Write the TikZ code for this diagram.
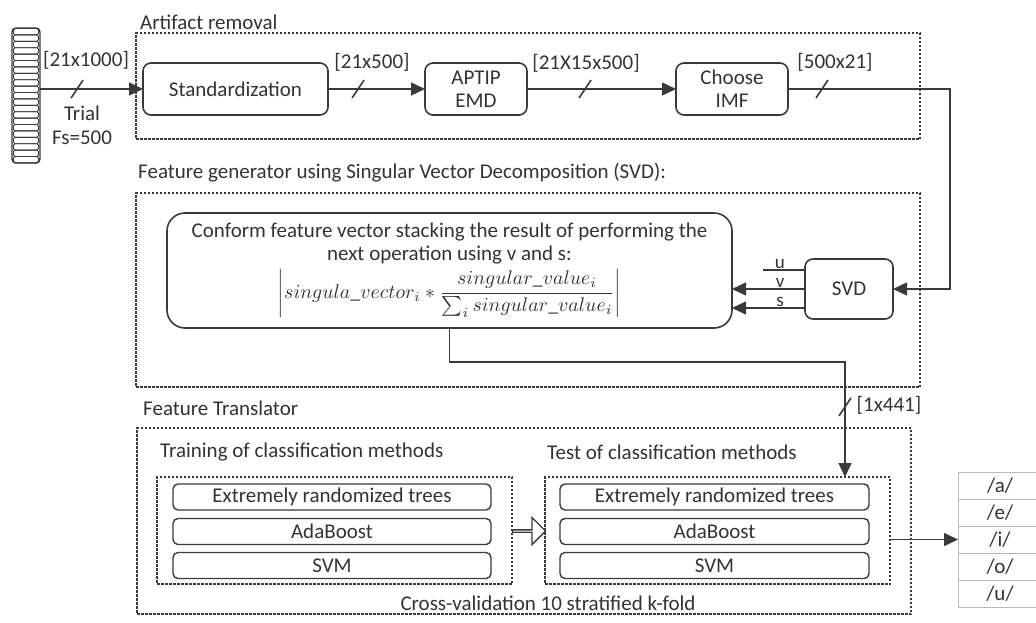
\documentclass[tikz,border=0pt]{standalone}
\usepackage{graphicx}
\usepackage{fontspec}
\setmainfont{Carlito}
\usetikzlibrary{arrows.meta,calc,shapes.arrows}
\definecolor{ink}{HTML}{3A3A3A}
\definecolor{txt}{HTML}{333333}
\definecolor{tbl}{HTML}{B8B8B8}
\tikzset{
  every node/.style={text=txt, font=\fontsize{21}{23}\selectfont},
  box/.style={draw=ink, line width=1.6pt, rounded corners=8pt, inner sep=0pt, outer sep=0pt, align=center},
  rowbox/.style={box, rounded corners=5pt, line width=1.4pt, minimum height=26pt},
  dbox/.style={draw=ink, line width=1.1pt, dash pattern=on 2.5pt off 1.5pt, inner sep=0pt, outer sep=0pt},
  conn/.style={draw=ink, line width=1.4pt},
  arr/.style={conn, -{Triangle[length=14pt,width=13pt]}},
  slashln/.style={draw=ink, line width=1.6pt},
  ttl/.style={anchor=west, inner sep=0pt},
  lbl/.style={inner sep=0pt},
  uvs/.style={above, inner sep=1pt, font=\fontsize{19}{21}\selectfont},
  cellnd/.style={minimum width=84pt, minimum height=27pt, inner sep=0pt, outer sep=0pt},
  tblln/.style={draw=tbl, line width=0.9pt},
}
\newcommand{\svformula}{{\fontsize{10}{12}\selectfont\scalebox{1.98}{$\displaystyle\left|singula\_vector_i * \frac{singular\_value_i}{\sum_i singular\_value_i}\right|$}}}
\begin{document}
\begin{tikzpicture}[x=1pt,y=-1pt]
\useasboundingbox (0,0) rectangle (1036,622);
\fill[white] (0,0) rectangle (1036,622);

% ---------- trial stack ----------
\node[minimum width=28pt, minimum height=135pt, inner sep=0pt, outer sep=0pt] (trial) at (26,95.5) {};
\foreach \i in {0,...,20}
  \draw[ink, line width=0.9pt, rounded corners=1.5pt] (13.5,{28.5+\i*6.4}) rectangle (38.5,{28.5+(\i+1)*6.4});
\draw[ink, line width=1.4pt, rounded corners=4pt] (trial.north west) rectangle (trial.south east);

% ---------- Artifact removal ----------
\node[dbox, minimum width=784pt, minimum height=106pt] (boxA) at (528,86) {};
\node[ttl] (tA) at (140,22) {Artifact removal};
\node[box, minimum width=185pt, minimum height=52pt] (std) at (235.5,89) {Standardization};
\node[box, minimum width=102pt, minimum height=52pt] (emd) at (476,89) {APTIP\\EMD};
\node[box, minimum width=112pt, minimum height=52pt] (imf) at (732,89) {Choose\\IMF};

\draw[arr] (trial.east |- std.west) -- coordinate[pos=0.36] (s1) (std.west);
\draw[slashln] ($(s1)+(-6,9)$) -- ($(s1)+(6,-9)$);
\node[lbl] at (86,60) {[21x1000]};
\node[lbl] at (82,113) {Trial};
\node[lbl] at (82,138) {Fs=500};

\draw[arr] (std.east) -- coordinate[pos=0.31] (s2) (emd.west);
\draw[slashln] ($(s2)+(-6,9)$) -- ($(s2)+(6,-9)$);
\node[lbl] at (372,62) {[21x500]};

\draw[arr] (emd.east) -- coordinate[pos=0.39] (s3) (imf.west);
\draw[slashln] ($(s3)+(-6,9)$) -- ($(s3)+(6,-9)$);
\node[lbl] at (586,63) {[21X15x500]};

% ---------- Feature generator ----------
\node[dbox, minimum width=784pt, minimum height=194pt] (boxB) at (528,290) {};
\node[ttl] (tB) at (138,173) {Feature generator using Singular Vector Decomposition (SVD):};
\node[box, rounded corners=18pt, minimum width=565pt, minimum height=115pt] (conform) at (449.5,270.5)
  {Conform feature vector stacking the result of performing the\\
   next operation using v and s:\\[4pt]
   \svformula};
\node[box, minimum width=88pt, minimum height=60pt] (svd) at (849,289) {SVD};

\coordinate (c1) at (950,89);
\draw[arr] (imf.east) -- coordinate[pos=0.21] (s4) (c1) |- (svd.east);
\draw[slashln] ($(s4)+(-6,9)$) -- ($(s4)+(6,-9)$);
\node[lbl] at (835,62) {[500x21]};

\coordinate (su) at ([yshift=19pt]svd.west);
\coordinate (ss) at ([yshift=-19pt]svd.west);
\draw[conn] (su) -- node[uvs, pos=0.6] {u} ++(-42,0);
\draw[arr] (svd.west) -- node[uvs, pos=0.34] {v} (svd.west -| conform.east);
\draw[arr] (ss) -- node[uvs, pos=0.34] {s} (ss -| conform.east);

% ---------- Feature Translator ----------
\node[dbox, minimum width=774pt, minimum height=186pt] (boxC) at (524,521) {};
\node[ttl] (tC) at (143,408) {Feature Translator};
\node[dbox, minimum width=355pt, minimum height=107pt] (train) at (334.5,530.5) {};
\node[dbox, minimum width=345pt, minimum height=107pt] (test) at (717.5,530.5) {};
\node[ttl] (tTr) at (160,452) {Training of classification methods};
\node[ttl] (tTe) at (547,452) {Test of classification methods};

\node[rowbox, minimum width=318pt] (r1) at (332,497) {Extremely randomized trees};
\node[rowbox, minimum width=318pt] (r2) at (332,531.5) {AdaBoost};
\node[rowbox, minimum width=318pt] (r3) at (332,565.5) {SVM};
\node[rowbox, minimum width=309pt] (q1) at (714.5,497) {Extremely randomized trees};
\node[rowbox, minimum width=309pt] (q2) at (714.5,531.5) {AdaBoost};
\node[rowbox, minimum width=309pt] (q3) at (714.5,565.5) {SVM};

\node[single arrow, draw=ink, fill=white, line width=1.3pt, minimum width=27pt, minimum height=33pt,
      single arrow head extend=7pt, single arrow head indent=0pt, inner sep=0pt, outer sep=0pt]
      (hollow) at (528.5,531) {};

\node[lbl] (cv) at (548,603) {Cross-validation 10 stratified k-fold};

\coordinate (c2) at (845,362);
\draw[arr] (conform.south) |- (c2) -- coordinate[pos=0.39] (s5) (c2 |- test.north);
\draw[slashln] ($(s5)+(-6,9)$) -- ($(s5)+(6,-9)$);
\node[lbl] at (889,405) {[1x441]};

% ---------- output table ----------
\node[cellnd] (va) at (1000,485.5) {/a/};
\node[cellnd] (ve) at (1000,512.5) {/e/};
\node[cellnd] (vi) at (1000,539.5) {/i/};
\node[cellnd] (vo) at (1000,566.5) {/o/};
\node[cellnd] (vu) at (1000,593.5) {/u/};
\draw[tblln] (va.north west) -- (vu.south west);
\foreach \c in {va,ve,vi,vo,vu} {
  \draw[tblln] (\c.north west) -- (1036,0 |- \c.north west);
}
\draw[tblln] (vu.south west) -- (1036,0 |- vu.south west);

\draw[arr] (test.east |- vi.west) -- (vi.west);
\end{tikzpicture}
\end{document}
